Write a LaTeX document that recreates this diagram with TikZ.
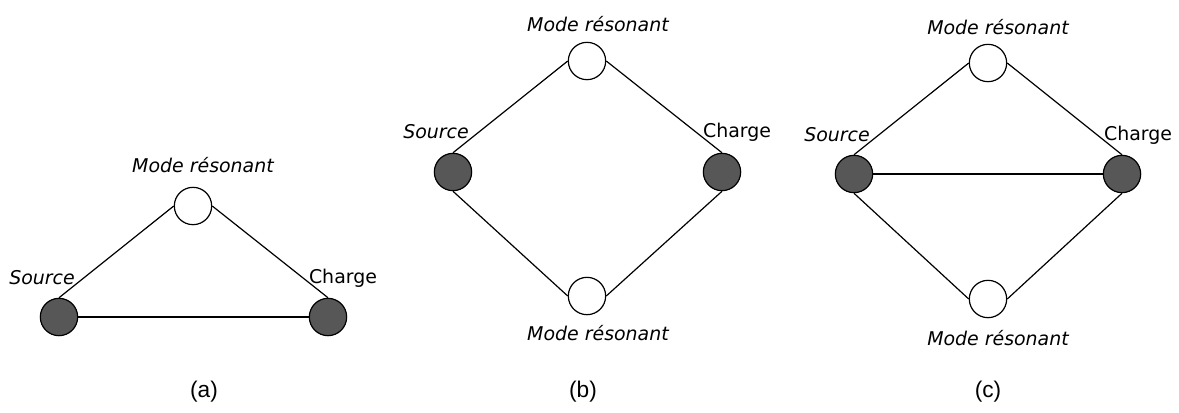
\documentclass[tikz,border=0pt]{standalone}
\usepackage{fontspec}
\setmainfont{Liberation Sans}
\newfontfamily\lblfont{DejaVu Sans}

\begin{document}
\begin{tikzpicture}[x=0.75pt,y=-0.75pt,
    mode/.style={circle,draw,line width=0.9pt,fill=white,minimum size=28pt,inner sep=0pt},
    port/.style={mode,fill=black!66},
    lbl/.style={font=\lblfont\fontsize{14.2}{17}\selectfont},
    caption/.style={font=\fontsize{17}{20}\selectfont},
    link/.style={line width=0.9pt}]
                \useasboundingbox (0,0) rectangle (1179,412);

                %%(a) triangle
                \node[mode] (ta) at (193,206) {};
                \node[port] (sa) at (59,317) {};
                \node[port] (ca) at (328,317) {};
                \draw[link] (sa.north) -- (ta.west);
                \draw[link] (ta.east) -- (ca.north);
                \draw[link] (sa.east) -- (ca.west);
                \node[lbl] (tla) at (203,165) {\itshape Mode résonant};
                \node[lbl] (sla) at (42,278) {\itshape Source};
                \node[lbl] (cla) at (343,278) {Charge};
                \node[caption] (capa) at (204,392) {(a)};

                %%(b) two modes
                \node[mode] (tb) at (587,61) {};
                \node[mode] (bb) at (587,296) {};
                \node[port] (sb) at (453,172) {};
                \node[port] (cb) at (722,172) {};
                \draw[link] (sb.north) -- (tb.west);
                \draw[link] (tb.east) -- (cb.north);
                \draw[link] (cb.south) -- (bb.east);
                \draw[link] (bb.west) -- (sb.south);
                \node[lbl] (tlb) at (598,24) {\itshape Mode résonant};
                \node[lbl] (blb) at (598,333) {\itshape Mode résonant};
                \node[lbl] (slb) at (436,132) {\itshape Source};
                \node[lbl] (clb) at (737,132) {Charge};
                \node[caption] (capb) at (583,392) {(b)};

                %%(c) two modes + direct link
                \node[mode] (tc) at (988,63) {};
                \node[mode] (bc) at (988,299) {};
                \node[port] (sc) at (854,174) {};
                \node[port] (cc) at (1122,174) {};
                \draw[link] (sc.north) -- (tc.west);
                \draw[link] (tc.east) -- (cc.north);
                \draw[link] (cc.south) -- (bc.east);
                \draw[link] (bc.west) -- (sc.south);
                \draw[link] (sc.east) -- (cc.west);
                \node[lbl] (tlc) at (998,27) {\itshape Mode résonant};
                \node[lbl] (blc) at (998,338) {\itshape Mode résonant};
                \node[lbl] (slc) at (837,135) {\itshape Source};
                \node[lbl] (clc) at (1138,135) {Charge};
                \node[caption] (capc) at (988,392) {(c)};
\end{tikzpicture}
\end{document}
